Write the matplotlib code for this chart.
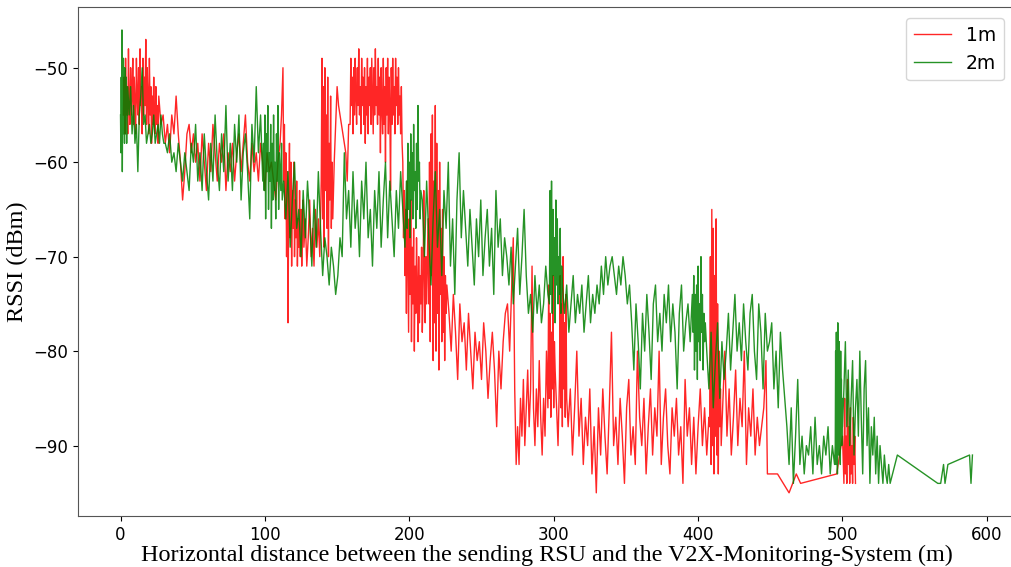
import numpy as np
import matplotlib
matplotlib.use('Agg')
import matplotlib.pyplot as plt

# RSSI trace, antenna height 1 m (distance in m, RSSI in dBm)
red_dist = [
    2, 2.5, 3, 3.5, 4, 4.5, 5, 5.5, 6, 6.5,
    7, 7.5, 8, 8.5, 9, 9.5, 10, 10.5, 11, 11.5,
    12, 12.5, 13, 13.5, 14, 14.5, 15, 15.5, 16, 16.5,
    17, 17.5, 18, 18.5, 19, 19.5, 20, 20.5, 21, 21.5,
    22, 22.5, 23, 23.5, 24, 24.5, 25, 25.5, 26, 26.5,
    28, 29.5, 31, 32.5, 34, 35.5, 37, 38.5, 40, 41.5,
    43, 44.5, 46, 47.5, 49, 50.5, 52, 53.5, 55, 56.5,
    58, 59.5, 61, 62.5, 64, 65.5, 67, 68.5, 70, 71.5,
    73, 74.5, 76, 77.5, 79, 80.5, 82, 83.5, 85, 86.5,
    88, 89.5, 91, 92.5, 94, 95.5, 97, 98.5, 100, 101.5,
    103, 104.5,
    106, 107.5, 109, 110.5, 111.5, 112.5,
    113, 113.5, 114, 114.5, 115, 115.5, 116, 116.5, 117, 117.5,
    118, 118.5, 119, 119.5, 120, 120.5, 121, 121.5, 122, 122.5,
    123, 123.5, 124, 124.5, 125, 125.5, 126, 126.5, 127,
    128, 129, 130, 131, 132, 133, 134, 135, 136, 137, 138, 139,
    139.5, 140, 140.5, 141, 141.5, 142, 142.5, 143, 143.5, 144,
    144.5, 145, 145.5, 146, 146.5, 147,
    148, 149, 150, 151, 152, 153, 154, 155, 156, 157, 158,
    159, 159.5, 160, 160.5, 161, 161.5, 162, 162.5, 163, 163.5,
    164, 164.5, 165, 165.5, 166, 166.5, 167, 167.5, 168, 168.5,
    169, 169.5, 170, 170.5, 171, 171.5, 172, 172.5, 173, 173.5,
    174, 174.5, 175, 175.5, 176, 176.5, 177, 177.5, 178, 178.5,
    179, 179.5, 180, 180.5, 181, 181.5, 182, 182.5, 183, 183.5,
    184, 184.5, 185, 185.5, 186, 186.5, 187, 187.5, 188, 188.5,
    189, 189.5, 190, 190.5, 191, 191.5, 192, 192.5, 193, 193.5,
    194, 194.5, 195,
    195.5, 196, 196.5, 197, 197.5, 198, 198.5, 199, 199.5, 200,
    200.5, 201, 201.5, 202, 202.5, 203, 203.5, 204, 204.5, 205,
    205.5, 206, 206.5, 207, 207.5, 208, 208.5, 209, 209.5, 210,
    210.5, 211, 211.5, 212,
    213, 213.5, 214, 214.5, 215, 215.5, 216, 216.5, 217, 217.5,
    218, 218.5, 219, 219.5, 220, 220.5, 221, 221.5, 222, 222.5,
    223, 223.5, 224, 224.5, 225, 225.5, 226,
    227.5, 229, 230.5, 232, 233.5, 235, 236.5, 238, 239.5, 241,
    242.5, 244, 245.5, 247, 248.5, 250, 251.5, 253, 254.5, 256,
    257.5, 259, 260.5, 262, 263.5, 265, 266.5, 268, 269.5, 271,
    272, 273, 274, 275, 276, 277, 278, 279, 280, 281,
    282, 283, 284, 285, 286, 287, 288, 289, 290, 291,
    292, 293, 294, 295, 296,
    296.5, 297, 297.5, 298, 298.5, 299, 299.5, 300, 300.5, 301,
    302, 303, 304,
    304.5, 305, 305.5, 306, 306.5, 307, 307.5, 308, 308.5, 309,
    310, 311.5, 313, 314.5, 316, 317.5, 319, 320.5, 322, 323.5,
    325, 326.5, 328, 329.5, 331, 332.5, 334, 335.5, 337, 338.5,
    340, 341.5, 343, 344.5, 346, 347.5, 349, 350.5, 352, 353.5,
    355, 356.5, 358, 359.5, 361, 362.5, 364, 365.5, 367, 368.5,
    370, 371.5, 373, 374.5, 376, 377.5, 379, 380.5, 382, 383.5,
    385, 386.5, 388, 389.5, 391, 392.5, 394, 395.5, 397, 398.5,
    400, 401.5, 403, 404.5, 406, 407.5,
    408, 408.5, 409, 409.5, 410, 410.5, 411, 411.5, 412, 412.5,
    413, 413.5, 414, 414.5, 415, 415.5, 416,
    417, 418.5, 420, 421.5, 423, 424.5, 426, 427.5, 429, 430.5,
    432, 433.5, 435, 436.5, 438, 439.5, 441, 442.5, 444, 445.5,
    447,
    448, 455, 463, 468, 471, 496, 498, 500,
    501, 501.5, 502, 502.5, 503, 503.5, 504, 504.5, 505, 505.5,
    506, 506.5, 507, 507.5, 508, 508.5, 509,
]
red_rssi = [
    -55, -51, -57, -49, -55, -52, -57, -48, -54, -56,
    -50, -55, -53, -49, -56, -51, -54, -57, -49, -53,
    -55, -50, -56, -48, -54, -52, -57, -49, -55, -51,
    -54, -47, -56, -50, -53, -57, -49, -55, -52, -58,
    -53, -56, -51, -55, -57, -52, -56, -54, -58, -53,
    -56, -55, -58, -56, -59, -55, -57, -53, -57, -60,
    -64, -61, -57, -56, -59, -57, -60, -58, -62, -57,
    -60, -63, -58, -61, -56, -59, -62, -58, -60, -57,
    -63, -59, -61, -58, -62, -59, -57, -61, -58, -55,
    -60, -62, -58, -61, -59, -62, -58, -60, -63, -59,
    -61, -60,
    -62, -64, -60, -58, -55, -50,
    -62, -56, -66, -59, -70, -61, -77, -64, -58, -68,
    -60, -71, -63, -67, -60, -70, -64, -68, -62, -71,
    -66, -69, -63, -70, -65, -71, -67, -64, -69,
    -66, -71, -68, -64, -70, -67, -71, -65, -69, -66, -70, -62,
    -49, -66, -52, -69, -50, -63, -55, -67, -51, -70,
    -58, -64, -53, -67, -60, -66,
    -60, -56, -52, -54, -55, -56, -57, -58, -59, -62, -56,
    -56, -49, -54, -51, -57, -50, -55, -49, -53, -56,
    -50, -54, -48, -55, -52, -57, -49, -54, -51, -56,
    -50, -58, -52, -55, -49, -57, -51, -54, -50, -56,
    -49, -53, -57, -50, -55, -48, -54, -52, -56, -49,
    -55, -51, -59, -50, -54, -57, -49, -56, -52, -60,
    -50, -55, -49, -57, -51, -54, -63, -50, -56, -49,
    -55, -52, -57, -49, -54, -51, -56, -50, -55, -53,
    -57, -52, -58,
    -60, -68, -63, -72, -65, -76, -62, -70, -78, -66,
    -74, -64, -79, -69, -75, -67, -80, -71, -76, -68,
    -73, -79, -70, -77, -72, -75, -69, -78, -74, -63,
    -72, -77, -70, -75,
    -66, -75, -60, -79, -57, -72, -55, -81, -62, -77,
    -54, -80, -58, -76, -63, -82, -60, -74, -67, -79,
    -65, -78, -70, -81, -72, -76, -73,
    -76, -80, -74, -78, -83, -75, -79, -77, -82, -76,
    -80, -84, -78, -81, -79, -83, -77, -80, -85, -81,
    -78, -82, -88, -80, -84, -79, -76, -75, -80, -73,
    -68, -84, -92, -88, -92, -85, -89, -83, -90, -86,
    -82, -88, -84, -71, -86, -90, -84, -88, -81, -87,
    -91, -85, -89, -80, -86,
    -73, -85, -76, -87, -78, -84, -72, -86, -79, -82,
    -86, -90, -83,
    -72, -86, -75, -88, -70, -84, -77, -87, -74, -85,
    -88, -84, -91, -86, -80, -89, -85, -92, -87, -90,
    -84, -93, -88, -95, -86, -91, -84, -89, -93, -86,
    -78, -90, -87, -92, -85, -89, -94, -86, -83, -91,
    -88, -92, -80, -87, -90, -85, -93, -88, -84, -91,
    -86, -89, -80, -92, -87, -84, -90, -93, -86, -89,
    -85, -91, -88, -94, -83, -89, -86, -92, -87, -93,
    -88, -84, -90, -86, -91, -87,
    -88, -70, -92, -65, -90, -67, -93, -72, -89, -66,
    -91, -75, -93, -80, -88, -84, -90,
    -86, -80, -89, -84, -91, -87, -82, -90, -85, -88,
    -80, -92, -86, -89, -84, -91, -87, -90, -88, -86,
    -81,
    -93, -93, -95, -93, -94, -93, -91, -89,
    -94, -85, -93, -89, -94, -83, -92, -88, -94, -86,
    -93, -90, -94, -87, -92, -89, -94,
]

# RSSI trace, antenna height 2 m
green_dist = [
    0, 0.25, 0.5, 0.75, 1, 1.25, 1.5, 1.75, 2, 2.25,
    2.5, 2.75, 3, 3.25, 3.5, 3.75, 4, 4.25, 4.5, 4.75, 5,
    6, 7, 8, 9, 10, 11, 12, 13, 14,
    15, 16, 17, 18, 19, 20, 21, 22, 23, 24,
    25, 26, 27, 28, 29, 30,
    31, 32.5, 34, 35.5, 37, 38.5, 40, 41.5, 43, 44.5,
    46, 47.5, 49, 50.5, 52, 53.5, 55, 56.5, 58, 59.5,
    61, 62.5, 64, 65.5, 67, 68.5, 70, 71.5, 73, 74.5,
    76, 77.5, 79, 80.5, 82, 83.5, 85, 86.5, 88, 89.5,
    91, 92.5, 94, 95.5, 97, 98.5,
    99, 99.5, 100, 100.5, 101, 101.5, 102, 102.5, 103, 103.5,
    104, 104.5, 105, 105.5, 106, 106.5, 107, 107.5, 108, 108.5,
    109, 109.5, 110, 110.5, 111, 111.5, 112,
    113, 114.5, 116, 117.5, 119, 120.5, 122, 123.5, 125, 126.5,
    128, 129.5, 131, 132.5, 134, 135.5, 137, 138.5, 140, 141.5,
    143, 144.5, 146, 147.5, 149, 150.5, 152, 153.5, 155, 156.5,
    158, 159.5, 161, 162.5, 164, 165.5, 167, 168.5, 170, 171.5,
    173, 174.5, 176, 177.5, 179, 180.5, 182, 183.5, 185, 186.5,
    188, 189.5, 191, 192.5, 194, 195.5, 197,
    198, 198.5, 199, 199.5, 200, 200.5, 201, 201.5, 202, 202.5,
    203, 203.5, 204, 204.5, 205, 205.5, 206, 206.5, 207, 207.5, 208,
    209, 210.5, 212, 213.5, 215, 216.5, 218, 219.5, 221, 222.5,
    224, 225.5, 227, 228.5, 230, 231.5, 233, 234.5, 236, 237.5,
    239, 240.5, 242, 243.5, 245, 246.5, 248, 249.5, 251, 252.5,
    254, 255.5, 257, 258.5, 260, 261.5, 263, 264.5, 266, 267.5,
    269, 270.5, 272, 273.5, 275, 276.5, 278, 279.5, 281, 282.5,
    284, 285.5, 287, 288.5, 290, 291.5, 293, 294.5, 296,
    297, 297.5, 298, 298.5, 299, 299.5, 300, 300.5, 301, 301.5,
    302, 302.5, 303, 303.5, 304, 304.5, 305, 305.5, 306,
    307.5, 309, 310.5, 312, 313.5, 315, 316.5, 318, 319.5, 321,
    322.5, 324, 325.5, 327, 328.5, 330, 331.5, 333, 334.5, 336,
    337.5, 339, 340.5, 342, 343.5, 345, 346.5, 348, 349.5, 351,
    352.5, 354, 355.5, 357, 358.5, 360, 361.5, 363, 364.5, 366,
    367.5, 369, 370.5, 372, 373.5, 375, 376.5, 378, 379.5, 381,
    382.5, 384, 385.5, 387, 388.5, 390, 391.5, 393, 394.5, 396,
    396.5, 397, 397.5, 398, 398.5, 399, 399.5, 400, 400.5, 401,
    401.5, 402, 402.5, 403, 403.5, 404, 404.5, 405,
    406, 407.5, 409, 410.5, 412, 413.5, 415, 416.5, 418, 419.5,
    421, 422.5, 424, 425.5, 427, 428.5, 430, 431.5, 433, 434.5,
    436, 437.5, 439, 440.5, 442, 443.5, 445, 446.5, 448,
    449.5, 451, 452.5, 454, 455.5, 457, 458.5, 460, 461.5, 463,
    464.5, 466, 467.5, 469,
    470.5, 472, 473.5, 475, 476.5, 478, 479.5, 481, 482.5, 484,
    485.5, 487, 488.5, 490, 491.5, 493, 494.5,
    495, 495.25, 495.5, 495.75, 496, 496.25, 496.5, 496.75, 497, 497.25,
    497.5, 497.75, 498, 498.25, 498.5, 498.75, 499, 499.25, 499.5, 499.75, 500,
    501, 502, 503, 504, 505, 506, 507, 508, 509, 510,
    511, 512, 513, 514, 515, 516, 517, 518, 519, 520,
    521, 522, 523, 524, 525, 526, 527, 528, 529, 530,
    531, 532, 533,
    538, 566, 568, 570, 571, 573, 588, 589, 590,
]
green_rssi = [
    -55, -59, -51, -58, -46, -61, -52, -57, -49, -56,
    -53, -58, -50, -57, -54, -56, -51, -58, -53, -55, -52,
    -55, -52, -57, -54, -58, -56, -61, -55, -53,
    -50, -56, -55, -58, -57, -56, -58, -57, -55, -58,
    -57, -56, -58, -55, -57, -58,
    -58, -59, -57, -60, -59, -61, -58, -60, -62, -59,
    -61, -63, -58, -60, -56, -62, -59, -63, -57, -61,
    -64, -58, -62, -55, -60, -63, -57, -61, -54, -62,
    -58, -63, -56, -60, -55, -64, -59, -57, -61, -66,
    -56, -60, -52, -59, -55, -62,
    -58, -63, -55, -66, -57, -61, -54, -65, -59, -62,
    -56, -67, -58, -64, -55, -63, -60, -66, -57, -62,
    -54, -65, -59, -61, -63, -58, -64,
    -62, -66, -61, -69, -64, -60, -67, -65, -70, -63,
    -68, -62, -66, -71, -64, -69, -61, -67, -72, -68,
    -70, -73, -69, -71, -74, -72, -68, -70, -59, -66,
    -63, -69, -61, -67, -64, -70, -62, -66, -60, -68,
    -65, -71, -63, -67, -61, -69, -64, -60, -68, -62,
    -66, -70, -63, -67, -61, -65, -69,
    -62, -67, -58, -65, -60, -68, -57, -64, -59, -66,
    -56, -63, -61, -67, -58, -65, -54, -62, -60, -66, -63,
    -64, -70, -62, -68, -73, -66, -61, -69, -65, -72,
    -63, -67, -60, -71, -66, -74, -64, -59, -68, -63,
    -67, -71, -65, -69, -73, -66, -70, -64, -72, -68,
    -65, -71, -67, -74, -63, -69, -66, -72, -68, -70,
    -73, -69, -75, -71, -67, -74, -70, -65, -72, -76,
    -74, -78, -72, -76, -73, -77, -75, -71, -74,
    -75, -63, -74, -62, -76, -65, -72, -68, -77, -64,
    -73, -66, -75, -70, -74, -67, -76, -71, -73,
    -76, -73, -78, -75, -72, -77, -74, -76, -73, -78,
    -75, -72, -77, -74, -76, -73, -75, -71, -74, -70,
    -73, -71, -70, -72, -74, -71, -73, -70, -72, -75,
    -73, -77, -82, -75, -79, -84, -76, -80, -74, -78,
    -83, -75, -73, -79, -76, -80, -74, -77, -73, -79,
    -75, -78, -84, -76, -73, -80, -77, -75, -79, -74,
    -78, -72, -82, -74, -80, -73, -83, -71, -79, -75,
    -81, -70, -78, -74, -82, -76, -79, -77,
    -80, -84, -78, -86, -81, -77, -85, -79, -83, -80,
    -76, -82, -78, -74, -80, -77, -81, -75, -79, -82,
    -76, -74, -80, -83, -75, -78, -84, -76, -80,
    -79, -77, -84, -80, -86, -78, -82, -85, -88, -92,
    -86, -94, -89, -83,
    -92, -89, -93, -90, -91, -88, -93, -87, -92, -90,
    -93, -89, -91, -88, -93, -90, -92,
    -90, -80, -92, -78, -88, -82, -93, -77, -86, -81,
    -91, -79, -89, -84, -92, -80, -87, -83, -90, -85, -88,
    -84, -79, -88, -82, -90, -85, -81, -91, -86, -83,
    -89, -80, -87, -93, -84, -81, -90, -86, -94, -88,
    -91, -87, -93, -89, -94, -90, -92, -94, -91, -93,
    -94, -92, -94,
    -91, -94, -94, -92, -94, -92, -91, -94, -91,
]

assert len(red_dist) == len(red_rssi)
assert len(green_dist) == len(green_rssi)

plt.rcParams['font.family'] = 'DejaVu Sans'
fig = plt.figure(figsize=(10.12, 5.67), dpi=100)
ax = fig.add_subplot(111)
# right spine sits just past the image edge, as in the cropped original
fig.subplots_adjust(left=0.077, right=1.003, top=0.988, bottom=0.090)

ax.plot(red_dist, red_rssi, color='red', lw=1.0, alpha=0.85, label='1m')
ax.plot(green_dist, green_rssi, color='green', lw=1.0, alpha=0.85, label='2m')

ax.set_xlabel('Horizontal distance between the sending RSU and the V2X-Monitoring-System (m)',
              family='Liberation Serif', fontsize=17.4, labelpad=1)
ax.set_ylabel('RSSI (dBm)', family='Liberation Serif', fontsize=17.5, labelpad=4)
ax.tick_params(labelsize=12)
for s in ax.spines.values():
    s.set_color('#555555')
ax.legend(loc='upper right', fontsize=13.5, borderaxespad=0.6)

fig.savefig('out.png', dpi=100)
